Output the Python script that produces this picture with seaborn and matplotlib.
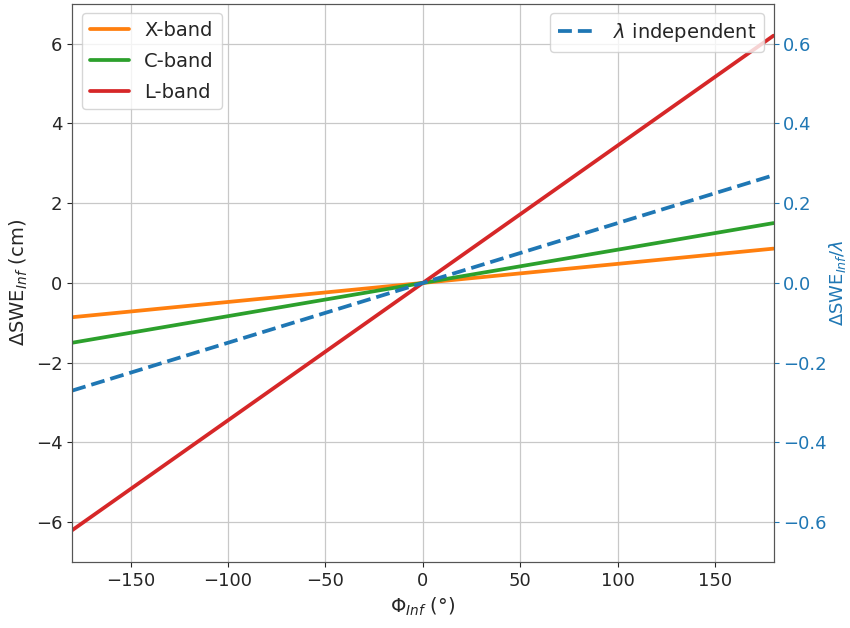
import matplotlib
matplotlib.use("Agg")
import matplotlib.pyplot as plt
import seaborn as sns
import pandas as pd

phi = [-180, 0, 180]
x_band = [-0.86, 0.0, 0.86]
c_band = [-1.50, 0.0, 1.50]
l_band = [-6.20, 0.0, 6.20]
lam_indep = [-0.27, 0.0, 0.27]
labels = ["X-band", "C-band", "L-band"]
colors = ["#ff7f0e", "#2ca02c", "#d62728"]

sns.set_style("ticks")
plt.rcParams["font.family"] = ["DejaVu Sans"]
plt.rcParams["font.size"] = 13

fig, ax = plt.subplots(figsize=(8.5, 6.28), dpi=100)
fig.subplots_adjust(left=0.085, right=0.91, top=0.994, bottom=0.105)

for lab, vals, c in zip(labels, [x_band, c_band, l_band], colors):
    df = pd.DataFrame({"phi": phi, "v": vals})
    sns.lineplot(data=df, x="phi", y="v", ax=ax, color=c, lw=2.7, label=lab)

ax.set_xlim(-180, 180)
ax.set_ylim(-7, 7)
ax.set_xticks([-150, -100, -50, 0, 50, 100, 150])
ax.set_yticks([-6, -4, -2, 0, 2, 4, 6])
ax.grid(True, color="#c8c8c8", lw=0.9)
ax.set_xlabel(r"$\Phi_{Inf}$ (°)", fontsize=14)
ax.set_ylabel(r"$\Delta$SWE$_{Inf}$ (cm)", fontsize=14)
ax.tick_params(labelsize=13)
for s in ax.spines.values():
    s.set_color("#555555")
ax.legend(loc="upper left", fontsize=14, handlelength=2, labelspacing=0.6)

ax2 = ax.twinx()
df2 = pd.DataFrame({"phi": phi, "v": lam_indep})
sns.lineplot(data=df2, x="phi", y="v", ax=ax2, color="#1f77b4", lw=2.7,
             ls="--", label=r"$\lambda$ independent")
ax2.set_ylim(-0.7, 0.7)
ax2.set_yticks([-0.6, -0.4, -0.2, 0.0, 0.2, 0.4, 0.6])
ax2.set_ylabel(r"$\Delta$SWE$_{Inf}/\lambda$", color="#1f77b4", fontsize=13,
               labelpad=0)
ax2.tick_params(axis="y", colors="#1f77b4", labelsize=13)
ax2.legend(loc="upper right", fontsize=14, handlelength=2)
for s in ax2.spines.values():
    s.set_color("#555555")

fig.savefig("out.png", dpi=100)
